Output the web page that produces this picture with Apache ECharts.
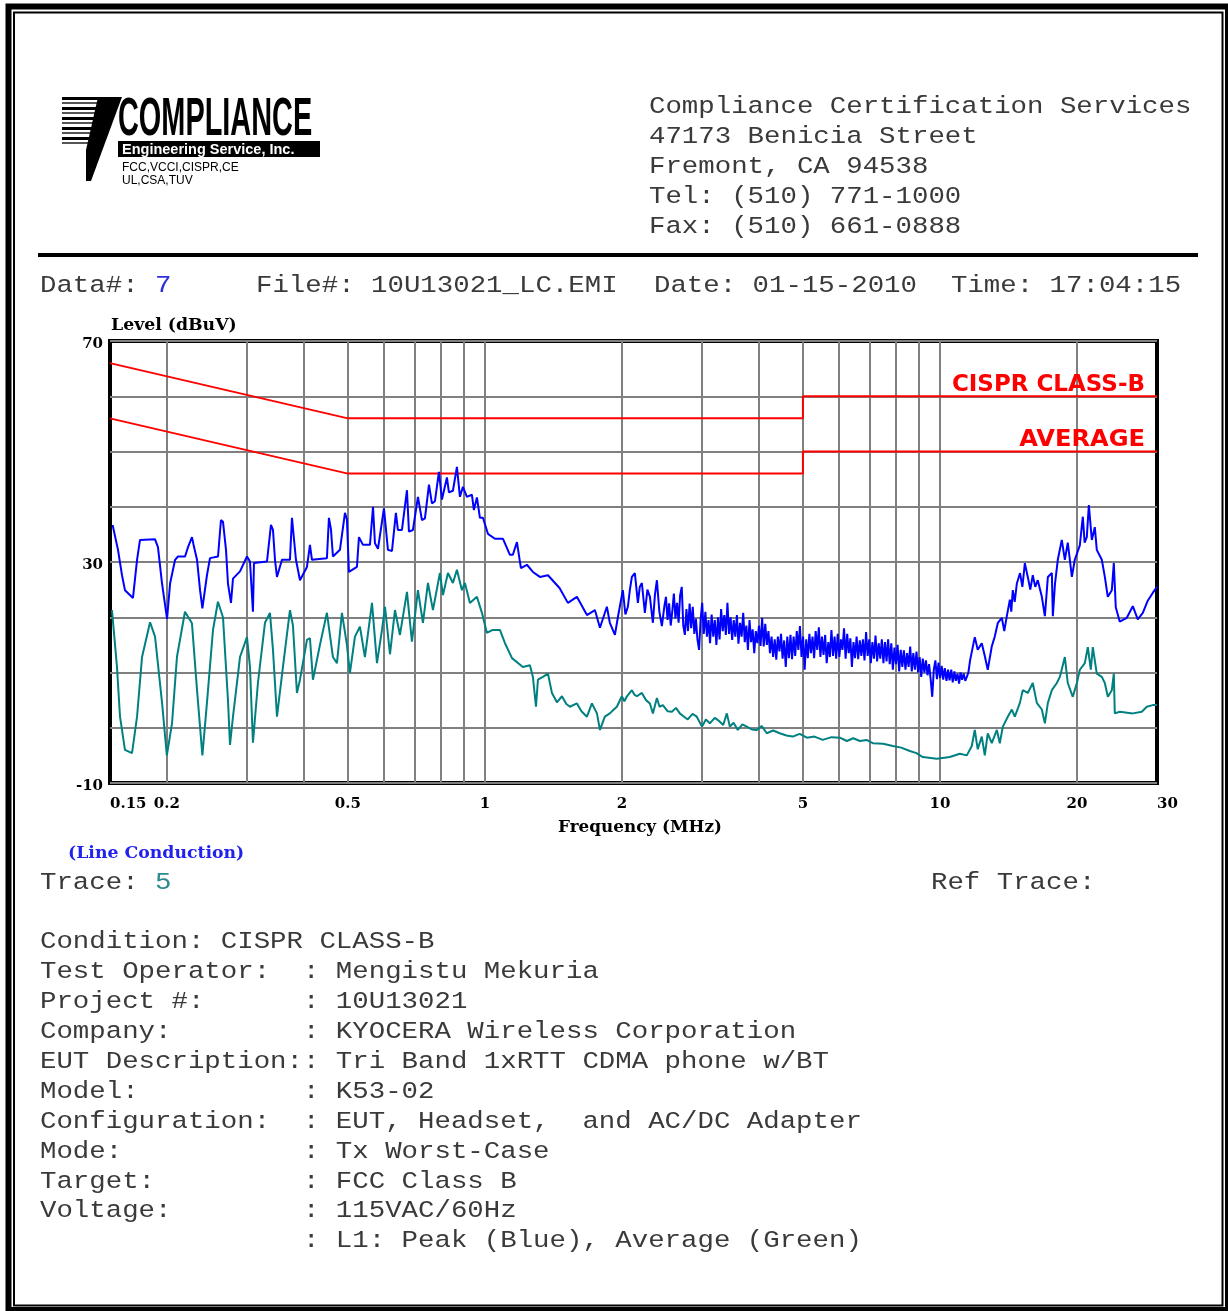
<!DOCTYPE html>
<html><head><meta charset="utf-8">
<script src="https://cdn.jsdelivr.net/npm/echarts@6/dist/echarts.min.js"></script>
<style>html,body{margin:0;padding:0;background:#fff;}#c{width:1228px;height:1311px;}</style>
</head><body><div id="c"></div>
<script>
// ---------- DATA ----------
const peakFreq = [0.152,0.1562,0.1594,0.1618,0.1685,0.172,0.1746,0.1884,0.1912,0.1952,0.2002,0.2033,0.2085,0.2116,0.2193,0.2226,0.2271,0.2295,0.233,0.2366,0.2394,0.245,0.2488,0.2591,0.263,0.2657,0.2698,0.2725,0.2767,0.2795,0.2896,0.3,0.3046,0.3092,0.3108,0.332,0.3387,0.3422,0.3457,0.3492,0.3581,0.3729,0.3767,0.3805,0.3844,0.3923,0.4064,0.4126,0.4168,0.4496,0.4542,0.4589,0.4635,0.4802,0.4926,0.4975,0.5026,0.5233,0.5287,0.5395,0.559,0.5677,0.5733,0.5822,0.6,0.6061,0.6123,0.6249,0.6374,0.6439,0.6572,0.6741,0.6809,0.6948,0.7126,0.7272,0.7383,0.7535,0.765,0.7767,0.7925,0.8047,0.8252,0.8336,0.8507,0.868,0.8813,0.8948,0.9131,0.9364,0.9459,0.9605,0.9752,0.9901,1.0155,1.0521,1.079,1.096,1.135,1.152,1.176,1.2,1.237,1.275,1.321,1.376,1.459,1.522,1.593,1.676,1.745,1.79,1.854,1.882,1.931,1.96,2.01,2.036,2.062,2.083,2.104,2.136,2.169,2.19,2.213,2.247,2.276,2.305,2.34,2.364,2.388,2.418,2.449,2.48,
 2.500,2.520,2.540,2.561,2.581,2.602,2.623,2.644,2.665,2.686,
 2.708,2.729,2.751,2.773,2.795,2.818,2.840,2.863,2.886,2.909,
 2.932,2.956,2.979,3.003,3.027,3.052,3.076,3.101,3.125,3.150,
 3.176,3.201,3.227,3.253,3.279,3.305,3.332,3.358,3.385,3.412,
 3.440,3.467,3.495,3.523,3.551,3.580,3.608,3.637,3.666,3.696,
 3.725,3.755,3.785,3.816,3.846,3.877,3.908,3.939,3.971,4.003,
 4.035,4.067,4.100,4.132,4.165,4.199,4.232,4.266,4.300,4.335,
 4.369,4.404,4.440,4.475,4.511,4.547,4.584,4.620,4.657,4.695,
 4.732,4.770,4.808,4.847,4.886,4.925,4.964,5.004,5.044,5.084,
 5.125,5.166,5.207,5.249,5.291,5.333,5.376,5.419,5.462,5.506,
 5.550,5.595,5.639,5.685,5.730,5.776,5.822,5.869,5.916,5.963,
 6.011,6.059,6.107,6.156,6.205,6.255,6.305,6.356,6.406,6.458,
 6.509,6.561,6.614,6.667,6.720,6.774,6.828,6.883,6.938,6.993,
 7.049,7.106,7.163,7.220,7.278,7.336,7.395,7.454,7.514,7.574,
 7.634,7.695,7.757,7.819,7.882,7.945,8.008,8.072,8.137,8.202,
 8.268,8.334,8.401,8.468,8.536,8.604,8.673,8.742,8.812,8.883,
 8.954,9.025,9.098,9.170,9.244,9.318,9.392,9.467,9.543,9.619,
 9.696,9.774,9.852,9.931,10.01,10.09,10.17,10.25,10.34,10.42,
 10.50,10.59,10.67,10.76,10.84,10.93,11.02,11.10,11.19,11.28,
 11.37,11.46,11.55,11.65,
 11.93,12.11,12.36,12.55,12.74,13.0,13.2,13.41,13.68,13.85,14.03,14.25,14.35,14.46,14.6,14.76,15.0,15.18,15.37,15.6,15.8,16.0,16.2,16.41,16.75,17.01,17.27,17.62,17.71,17.9,18.16,18.53,18.82,19.1,19.5,19.79,20.3,20.61,20.8,21.03,21.25,21.57,21.9,22.12,22.69,23.04,23.39,23.87,24.11,24.35,24.85,25.75,26.54,27.22,27.92,28.63,29.36,30];
const peakLevel = [36.7,32.2,27.6,24.9,23.5,30.4,34.0,34.1,32.7,26.1,19.7,26.1,30.4,31.0,31.0,32.7,34.5,32.7,30.4,24.9,21.6,27.6,30.7,31.0,37.6,37.3,32.2,26.1,22.6,27.0,28.3,31.0,30.1,21.0,29.8,30.1,36.7,35.8,30.4,27.3,30.4,30.4,38.0,37.7,30.4,26.7,29.1,33.1,30.4,30.7,38.0,35.9,31.0,32.2,38.9,37.7,28.2,29.1,34.5,33.1,33.1,40.0,33.4,32.4,39.7,39.4,32.2,32.0,38.9,35.8,35.8,43.0,35.5,35.8,41.8,37.6,37.9,44.0,40.6,41.0,46.3,41.3,45.3,42.6,42.9,47.2,41.8,43.6,41.8,42.2,39.4,41.7,38.0,38.0,35.1,34.2,34.2,34.2,31.3,31.3,33.6,28.9,29.5,28.2,27.3,27.6,25.3,22.6,23.7,20.4,21.3,18.1,21.9,19.0,16.8,20.0,24.9,20.5,21.9,25.0,27.3,28.0,22.6,25.5,26.2,20.8,25.0,23.7,19.0,24.0,26.7,21.0,18.4,22.0,
 23.7,19.5,22.5,18.5,21.0,24.3,19.8,22.6,19.0,24.0,
 25.5,18.5,16.8,21.5,17.5,22.5,18.0,21.9,17.0,19.7,
 16.0,14.1,19.5,22.6,17.0,21.0,16.5,19.5,15.3,20.5,
 16.5,19.5,15.0,20.0,16.0,21.5,17.5,20.4,16.8,22.6,
 17.0,20.0,15.9,19.5,16.5,20.4,15.2,19.0,16.5,20.8,
 15.5,18.5,14.1,19.5,15.5,17.8,13.5,17.5,15.3,18.5,
 14.8,19.9,14.7,18.8,15.0,17.5,13.5,16.5,12.8,16.0,
 12.3,16.5,13.8,17.0,12.5,15.8,11.0,16.5,12.6,16.8,
 12.4,16.5,13.0,17.5,14.1,18.4,12.8,16.5,10.5,16.0,
 12.6,17.0,13.5,16.5,12.6,17.5,14.1,18.2,12.8,16.5,
 13.2,16.8,11.7,15.5,12.8,17.7,13.0,16.5,12.5,17.0,
 12.8,16.0,14.1,18.0,12.5,17.0,13.5,16.2,11.0,15.5,
 12.6,16.5,12.4,15.8,13.0,16.0,12.2,17.3,13.0,16.0,
 11.7,15.5,12.5,16.7,12.0,15.3,12.5,16.0,11.7,15.5,
 12.0,16.0,11.5,15.3,10.5,14.5,11.5,15.0,10.2,14.1,
 11.0,14.0,10.5,13.5,11.0,14.7,10.2,13.5,10.5,13.8,
 10.0,12.8,9.2,12.5,10.0,12.2,9.5,11.5,8.8,5.6,
 10.5,12.2,8.8,11.8,9.0,11.2,8.7,10.8,8.5,10.5,
 8.6,10.5,8.2,10.2,8.5,9.8,8.0,10.0,8.7,9.8,
 8.5,9.2,10.0,12.2,
 16.4,14.1,15.3,13.0,10.5,14.7,16.5,19.0,19.9,17.5,20.2,23.2,21.0,24.9,22.8,26.1,28.0,25.5,29.8,27.3,25.0,27.6,25.5,26.7,23.7,20.2,27.3,28.0,20.2,26.0,30.4,34.0,30.4,33.5,27.3,30.4,33.0,38.2,33.5,34.5,40.3,34.0,36.3,32.2,30.4,27.3,23.7,24.9,29.8,21.8,19.2,19.9,22.0,19.6,20.8,23.0,24.4,25.5];

const avgFreq = [0.1515,0.1554,0.1578,0.1618,0.1677,0.172,0.1764,0.1837,0.1884,0.1952,0.2,0.2053,0.2105,0.2192,0.2271,0.233,0.2394,0.245,0.2526,0.259,0.2657,0.2725,0.2753,0.2795,0.2896,0.3,0.3046,0.3092,0.3171,0.3286,0.337,0.3422,0.3492,0.3599,0.3729,0.3786,0.3863,0.3923,0.4064,0.4126,0.4189,0.434,0.4496,0.4635,0.473,0.4851,0.4975,0.5051,0.5181,0.5313,0.5449,0.5648,0.5792,0.5941,0.6032,0.6186,0.6344,0.6506,0.6741,0.6913,0.7126,0.7309,0.7496,0.7688,0.7965,0.8088,0.8294,0.8507,0.868,0.8903,0.9039,0.927,0.9605,0.9851,1.01,1.041,1.079,1.107,1.147,1.212,1.256,1.275,1.295,1.308,1.341,1.376,1.404,1.44,1.477,1.51,1.538,1.593,1.63,1.676,1.719,1.763,1.79,1.835,1.882,1.915,1.95,2.0,2.026,2.052,2.104,2.13,2.158,2.213,2.26,2.305,2.34,2.388,2.42,2.461,2.52,2.576,2.63,2.681,2.74,2.791,2.86,2.922,3.0,3.06,3.122,3.2,3.284,3.34,3.402,3.454,3.52,3.596,3.68,3.764,3.86,3.959,4.06,4.164,4.3,4.447,4.6,4.749,4.92,5.101,5.3,5.528,5.78,6.027,6.245,6.45,6.669,6.9,7.122,7.5,7.881,8.22,8.588,8.88,9.171,9.844,10.51,11.06,11.46,11.75,11.93,12.11,12.36,12.55,12.74,13.0,13.34,13.54,13.75,14.1,14.39,14.61,14.99,15.21,15.6,16.0,16.33,16.75,17.01,17.27,17.62,18.07,18.35,18.82,19.1,19.59,20.0,20.3,20.82,21.14,21.46,21.68,22.12,22.69,23.04,23.39,23.87,24.11,24.23,24.85,26.54,27.78,28.49,29.36,30];
const avgLevel = [21.3,11,2.0,-4,-4.6,2.0,12.8,19.1,16.5,4.5,-5,0.8,12.8,21,18.9,6.8,-5,4.5,17.7,22.8,20,5,-3.1,2.0,12.8,16.4,11,-2.7,8.1,19,20.8,14.1,2.0,11,21.3,18.5,6.3,8.7,15.9,16.2,8.7,15,20.8,12.8,11.7,20.8,15,9.9,16.5,18.3,12.8,22.6,11.7,17.7,21.9,13.3,21.3,16.8,24.6,15.6,24.9,19,26.2,21.3,28,24,28,26.2,28.6,24.9,26.2,22.6,23.7,20.8,17.2,17.7,17.7,15.3,12.6,11,11.3,9.2,3.8,8.7,9.2,9.8,6.3,4.6,5.7,4.3,3.8,4.4,3.0,2.0,4.4,2.6,-0.4,2,2.6,3.2,3.8,5.7,4.8,5.7,6.8,6.0,5.7,6.3,5.0,4.4,2.6,5.4,3.8,4.1,3.0,2.9,3.6,2.6,2.0,1.5,2.5,2,0.2,1.5,0.8,1.8,1.1,0.5,2.6,0.2,0.9,-0.4,0.6,0.2,-0.3,-0.4,0.3,-1,-0.5,-1,-1.4,-1.6,-1.1,-1.8,-1.6,-2.2,-1.7,-1.8,-2.4,-1.9,-2.4,-2.2,-2.8,-2.9,-3.3,-3.6,-4.2,-4.6,-5.3,-5.6,-5.3,-4.7,-5,-3.3,-0.4,-3.9,-1.6,-5,-1,-2.8,-0.4,-2.8,0.2,2,3.3,2,4.5,6.8,6.3,8.1,4.5,3.3,0.8,4.5,6.8,8.1,9.2,12.8,8.1,5.6,8.1,10.5,11.7,14.6,10.5,14.6,9.8,9.2,8.1,5.6,6.8,9.8,2.6,2.9,2.6,2.9,3.8,4.1,4.1];

const limitFreq = [0.15, 0.5, 5, 5, 30];
const qpLimit   = [66, 56, 56, 60, 60];
const avLimit   = [56, 46, 46, 50, 50];
const xGridFreqs  = [0.2,0.3,0.4,0.5,0.6,0.7,0.8,0.9,1,2,3,4,5,6,7,8,9,10,20];
const xLabelFreqs = [0.15,0.2,0.5,1,2,5,10,20,30];
const yLabelValues = [70, 30, -10];

const headerLines = ['Compliance Certification Services','47173 Benicia Street','Fremont, CA 94538','Tel: (510) 771-1000','Fax: (510) 661-0888'];
const infoLines = [
 'Condition: CISPR CLASS-B',
 'Test Operator:  : Mengistu Mekuria',
 'Project #:      : 10U13021',
 'Company:        : KYOCERA Wireless Corporation',
 'EUT Description:: Tri Band 1xRTT CDMA phone w/BT',
 'Model:          : K53-02',
 'Configuration:  : EUT, Headset,  and AC/DC Adapter',
 'Mode:           : Tx Worst-Case',
 'Target:         : FCC Class B',
 'Voltage:        : 115VAC/60Hz',
 '                : L1: Peak (Blue), Average (Green)'
];

// ---------- BUILD ----------
const zip = (a, b) => a.map((v, i) => [v, b[i]]);
const MONO = '27.4px "Liberation Mono"';
const CW = 16.44;
function mono(str, x, y, color) {
  return {type:'text', x:x, y:y, scaleY:0.88, z:10, silent:true,
    style:{text:str, x:0, y:0, font:MONO, fill:color || '#3a3a3a', align:'left', verticalAlign:'middle', textAlign:'left', textVerticalAlign:'middle'}};
}
function txt(str, x, y, font, color, align, sx) {
  return {type:'text', x:x, y:y, scaleX:sx || 1, z:10, silent:true,
    style:{text:str, x:0, y:0, font:font, fill:color, align:align || 'left', verticalAlign:'middle', textAlign:align || 'left', textVerticalAlign:'middle'}};
}

const g = [];
// page frame
g.push({type:'rect', shape:{x:8.5, y:6.5, width:1219.5, height:1303.5}, style:{fill:'none', stroke:'#000', lineWidth:6}, z:1, silent:true});
g.push({type:'rect', shape:{x:14, y:12.5, width:1208.5, height:1293}, style:{fill:'none', stroke:'#000', lineWidth:2}, z:1, silent:true});
// logo
for (let i = 0; i < 10; i++) {
  g.push({type:'rect', shape:{x:62, y:97 + i * 5, width:40 - i * 1.2, height:i % 2 ? 2 : 3}, style:{fill:i % 2 ? '#555' : '#000'}, z:5, silent:true});
}
g.push({type:'polygon', shape:{points:[[98,97],[122,97],[91,181],[86,181],[86,150]]}, style:{fill:'#000'}, z:5, silent:true});
g.push({type:'rect', shape:{x:118, y:141, width:202, height:16}, style:{fill:'#000'}, z:5, silent:true});
g.push(txt('COMPLIANCE', 118, 120, 'bold 53px "Liberation Sans"', '#000', 'left', 0.545));
g.push(txt('Engineering Service, Inc.', 122, 149.5, 'bold 14.5px "Liberation Sans"', '#fff', 'left', 1));
g.push(txt('FCC,VCCI,CISPR,CE', 122, 168, '12px "Liberation Sans"', '#000', 'left', 1));
g.push(txt('UL,CSA,TUV', 122, 181, '12px "Liberation Sans"', '#000', 'left', 1));
// header
headerLines.forEach((s, i) => g.push(mono(s, 649, 107 + i * 29.8)));
g.push({type:'rect', shape:{x:38, y:253, width:1160, height:4}, style:{fill:'#000'}, z:5, silent:true});
// data line
g.push(mono('Data#:', 40, 286));
g.push(mono('7', 40 + 7 * CW, 286, '#3030e0'));
g.push(mono('File#: 10U13021_LC.EMI', 256, 286));
g.push(mono('Date: 01-15-2010', 654, 286));
g.push(mono('Time: 17:04:15', 951, 286));
// chart texts
g.push(txt('Level (dBuV)', 111, 326, 'bold 16px "DejaVu Serif"', '#000', 'left', 1.08));
g.push(txt('Frequency (MHz)', 640, 828, 'bold 16px "DejaVu Serif"', '#000', 'center', 1.05));
g.push(txt('(Line Conduction)', 68, 854, 'bold 16px "DejaVu Serif"', '#2222ee', 'left', 1.08));
g.push(txt('CISPR CLASS-B', 1145, 385, 'bold 23px "DejaVu Sans"', '#ff0000', 'right', 1));
g.push(txt('AVERAGE', 1145, 440, 'bold 23px "DejaVu Sans"', '#ff0000', 'right', 1.05));
// trace line
g.push(mono('Trace:', 40, 883));
g.push(mono('5', 40 + 7 * CW, 883, '#2e8b8b'));
g.push(mono('Ref Trace:', 931, 883));
infoLines.forEach((s, i) => g.push(mono(s, 40, 942 + i * 29.9)));

const axisFont = {fontFamily:'DejaVu Serif', fontWeight:'bold', fontSize:15, color:'#000'};

const option = {
  animation: false,
  backgroundColor: '#fff',
  grid: {left:110, top:341, width:1047, height:442, show:true, borderColor:'#000', borderWidth:4, backgroundColor:'transparent'},
  xAxis: {
    type:'log', logBase:10, min:0.15, max:30,
    axisLine:{show:false}, axisTick:{show:false}, splitLine:{show:false},
    axisLabel: Object.assign({customValues:xLabelFreqs, margin:14, alignMinLabel:'left', alignMaxLabel:'left',
      formatter: v => String(+(+v).toPrecision(3))}, axisFont)
  },
  yAxis: {
    type:'value', min:-10, max:70, interval:10,
    axisLine:{show:false}, axisTick:{show:false},
    splitLine:{show:true, lineStyle:{color:'#808080', width:2}},
    axisLabel: Object.assign({margin:7,
      formatter: v => yLabelValues.indexOf(v) >= 0 ? '{a|' + v + '}' : '',
      rich:{a:Object.assign({padding:[7,0,0,0]}, axisFont)}}, axisFont)
  },
  series: [
    {type:'line', name:'grid', data:[], silent:true, z:1,
      markLine:{silent:true, z:1, symbol:['none','none'], label:{show:false}, animation:false,
        lineStyle:{color:'#808080', width:2, type:'solid'},
        data: xGridFreqs.map(f => ({xAxis:f}))}},
    {type:'line', name:'CISPR CLASS-B', data:zip(limitFreq, qpLimit), symbol:'none', z:3,
      lineStyle:{color:'#ff0000', width:2}, silent:true},
    {type:'line', name:'AVERAGE', data:zip(limitFreq, avLimit), symbol:'none', z:3,
      lineStyle:{color:'#ff0000', width:2}, silent:true},
    {type:'line', name:'Average', data:zip(avgFreq, avgLevel), symbol:'none', z:4,
      lineStyle:{color:'#008080', width:2}, silent:true},
    {type:'line', name:'Peak', data:zip(peakFreq, peakLevel), symbol:'none', z:5,
      lineStyle:{color:'#0000ff', width:2}, silent:true}
  ],
  graphic: g
};
const chart = echarts.init(document.getElementById('c'), null, {renderer:'canvas', width:1228, height:1311});
chart.setOption(option);
</script></body></html>
